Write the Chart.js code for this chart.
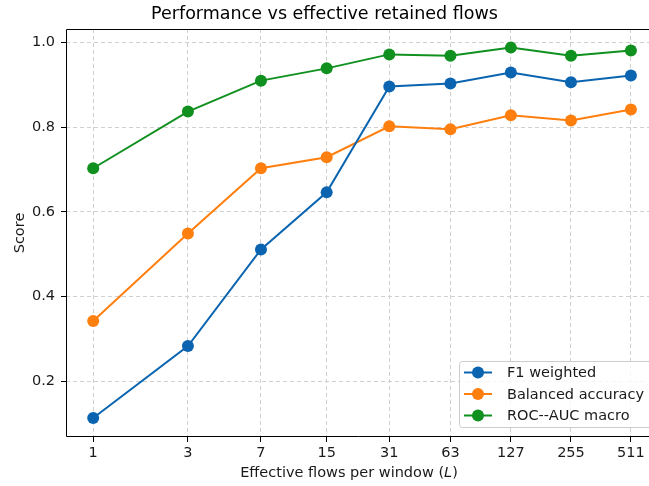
<!DOCTYPE html>
<html>
<head>
<meta charset="utf-8">
<script src="https://cdn.jsdelivr.net/npm/chart.js@4.4.1/dist/chart.umd.min.js"></script>
<style>
  html, body { margin: 0; padding: 0; background: #fff; }
  #wrap { width: 649px; height: 486px; }
</style>
</head>
<body>
<div id="wrap"><canvas id="perfChart" width="649" height="486"></canvas></div>
<script>
// --- DATA ---
const flows = [1, 3, 7, 15, 31, 63, 127, 255, 511];
const f1Weighted = [0.113, 0.283, 0.511, 0.646, 0.896, 0.903, 0.929, 0.906, 0.922];
const balancedAcc = [0.342, 0.549, 0.703, 0.729, 0.802, 0.795, 0.828, 0.816, 0.842];
const rocAucMacro = [0.703, 0.837, 0.910, 0.939, 0.972, 0.969, 0.988, 0.969, 0.981];
const yTicks = [0.2, 0.4, 0.6, 0.8, 1.0];

const FONT = "'DejaVu Sans', sans-serif";
const TXT = '#1a1a1a';
const GRID = '#d0d0d0';
const FS = 14.5;

function series(label, values, color) {
    return {
        label,
        data: flows.map((x, i) => ({ x, y: values[i] })),
        borderColor: color,
        backgroundColor: color,
        borderWidth: 2,
        pointRadius: 6,
        pointHoverRadius: 6,
        pointBorderWidth: 0,
        tension: 0
    };
}

// spines (plot runs off the right edge), x title with italic L, legend
const framePlugin = {
    id: 'frame',
    afterDraw(chart) {
        const { ctx, chartArea: a } = chart;
        ctx.save();
        ctx.strokeStyle = '#000';
        ctx.lineWidth = 1;
        ctx.beginPath();
        ctx.moveTo(a.right + 5, a.top + 0.5);
        ctx.lineTo(a.left + 0.5, a.top + 0.5);
        ctx.lineTo(a.left + 0.5, a.bottom - 0.5);
        ctx.lineTo(a.right + 5, a.bottom - 0.5);
        ctx.stroke();

        const ty = 473;
        const cx = 349;
        const parts = [['Effective flows per window (', ''], ['L', 'italic '], [')', '']];
        ctx.fillStyle = TXT;
        ctx.textBaseline = 'middle';
        ctx.textAlign = 'left';
        let total = 0;
        parts.forEach(p => { ctx.font = `${p[1]}${FS}px ${FONT}`; total += ctx.measureText(p[0]).width; });
        let x0 = cx - total / 2;
        parts.forEach(p => {
            ctx.font = `${p[1]}${FS}px ${FONT}`;
            ctx.fillText(p[0], x0, ty);
            x0 += ctx.measureText(p[0]).width;
        });

        // legend, lower right
        const bx = 459, by = 361, bw = 196, bh = 66;
        ctx.fillStyle = 'rgba(255,255,255,0.8)';
        ctx.strokeStyle = '#cccccc';
        ctx.lineWidth = 1;
        ctx.beginPath();
        ctx.roundRect(bx + 0.5, by + 0.5, bw, bh, 3);
        ctx.fill();
        ctx.stroke();
        chart.data.datasets.forEach((ds, i) => {
            const y = by + 11.5 + i * 21.5;
            ctx.strokeStyle = ds.borderColor;
            ctx.lineWidth = 2;
            ctx.beginPath();
            ctx.moveTo(bx + 5, y);
            ctx.lineTo(bx + 33, y);
            ctx.stroke();
            ctx.fillStyle = ds.backgroundColor;
            ctx.beginPath();
            ctx.arc(bx + 19, y, 6, 0, Math.PI * 2);
            ctx.fill();
            ctx.fillStyle = TXT;
            ctx.font = `${FS}px ${FONT}`;
            ctx.textAlign = 'left';
            ctx.textBaseline = 'middle';
            ctx.fillText(ds.label, bx + 48, y + 1);
        });
        ctx.restore();
    }
};

const gridOpts = {
    color: GRID,
    lineWidth: 1,
    tickLength: 5,
    tickColor: '#000',
    tickWidth: 1,
    tickBorderDash: []
};
const borderOpts = { display: false, dash: [4, 3] };

new Chart(document.getElementById('perfChart'), {
    type: 'line',
    data: {
        datasets: [
            series('F1 weighted', f1Weighted, '#0a64b0'),
            series('Balanced accuracy', balancedAcc, '#ff7f0e'),
            series('ROC--AUC macro', rocAucMacro, '#10901f')
        ]
    },
    options: {
        responsive: false,
        animation: false,
        layout: { autoPadding: false, padding: { top: 0, right: 0, bottom: 0, left: 0 } },
        plugins: {
            legend: { display: false },
            tooltip: { enabled: false },
            title: {
                display: true,
                text: 'Performance vs effective retained flows',
                color: '#000',
                font: { family: FONT, size: 17.5, weight: 'normal', lineHeight: 1.2 },
                padding: { top: 4, bottom: 4 }
            }
        },
        scales: {
            x: {
                type: 'logarithmic',
                bounds: 'data',
                min: Math.pow(2, -0.455),
                max: Math.pow(2, 9.30),
                afterBuildTicks: (s) => { s.ticks = flows.map(v => ({ value: v })); },
                afterFit: (s) => { s.height = 49; s.paddingLeft = 0; s.paddingRight = 0; },
                ticks: {
                    autoSkip: false,
                    maxRotation: 0,
                    color: TXT,
                    font: { family: FONT, size: FS },
                    padding: 3,
                    callback: (v) => String(v)
                },
                grid: gridOpts,
                border: borderOpts
            },
            y: {
                min: 0.068,
                max: 1.032,
                afterBuildTicks: (s) => { s.ticks = yTicks.map(v => ({ value: v })); },
                afterFit: (s) => { s.width = 66; s.paddingTop = 0; s.paddingBottom = 0; },
                ticks: {
                    color: TXT,
                    font: { family: FONT, size: FS },
                    padding: 6,
                    callback: (v) => v.toFixed(1)
                },
                grid: gridOpts,
                border: borderOpts,
                title: {
                    display: true,
                    text: 'Score',
                    color: TXT,
                    font: { family: FONT, size: FS },
                    padding: { top: 12, bottom: 4 }
                }
            }
        }
    },
    plugins: [framePlugin]
});
</script>
</body>
</html>
